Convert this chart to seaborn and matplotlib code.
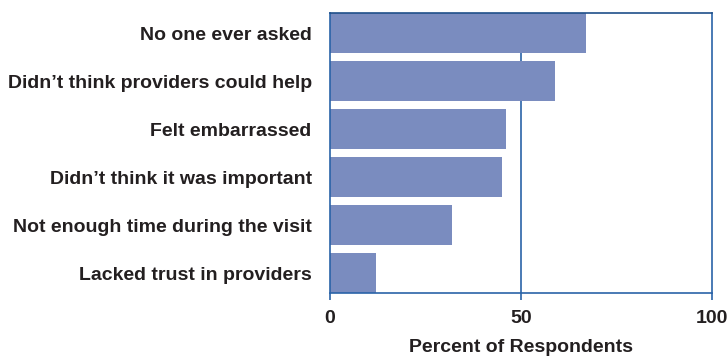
import seaborn as sns
import matplotlib.pyplot as plt
import pandas as pd

# reasons for not discussing, percent of respondents
razones = [
    "No one ever asked",
    "Didn\u2019t think providers could help",
    "Felt embarrassed",
    "Didn\u2019t think it was important",
    "Not enough time during the visit",
    "Lacked trust in providers",
]
porcentajes = [67, 59, 46, 45, 32, 12]

df = pd.DataFrame({"razon": razones, "pct": porcentajes})

sns.set_style("white")
plt.rcParams["font.family"] = ["Liberation Sans", "DejaVu Sans"]

azul_barra = "#7a8cbf"
azul_linea = "#2a63a8"
texto = "#231f20"

fig = plt.figure(figsize=(7.28, 3.56), dpi=100)
ax = fig.add_axes([0.4529, 0.1761, 0.5255, 0.7865])

sns.barplot(data=df, x="pct", y="razon", orient="h", color=azul_barra,
            saturation=1, width=0.833, linewidth=0, ax=ax)

ax.set_xlim(0, 100)
ax.set_ylim(5.4167, -0.4167)
ax.set_xticks([0, 50, 100])
ax.axvline(50, color=azul_linea, lw=1.2, zorder=0)

for s in ax.spines.values():
    s.set_visible(True)
    s.set_color(azul_linea)
    s.set_linewidth(1.2)
ax.spines["top"].set_color("#1f4f8a")

ax.tick_params(axis="y", length=0, pad=13, labelsize=14, labelcolor=texto)
ax.tick_params(axis="x", length=5, width=1.2, color=azul_linea, direction="out",
               pad=7, labelsize=14, labelcolor=texto, bottom=True)
for lab in ax.get_yticklabels() + ax.get_xticklabels():
    lab.set_fontweight("bold")

ax.set_ylabel("")
ax.set_xlabel("Percent of Respondents", fontsize=14, fontweight="bold",
              color=texto, labelpad=9)

fig.savefig("out.png", dpi=100)
